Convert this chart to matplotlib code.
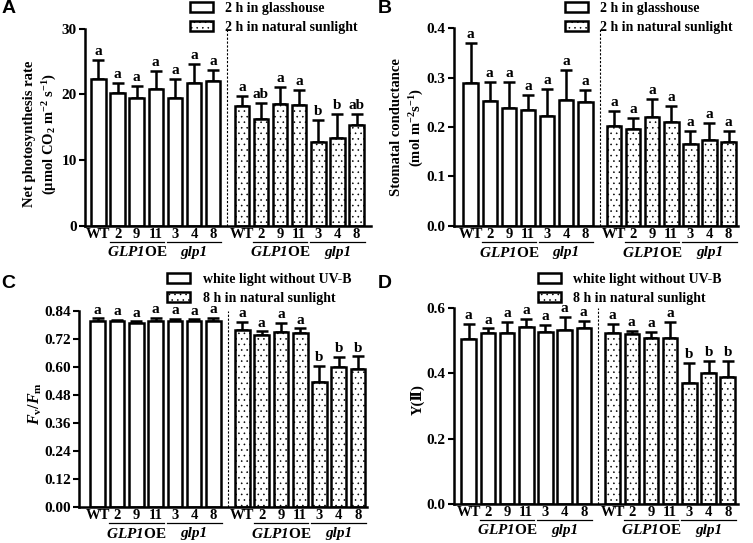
import numpy as np
import matplotlib
matplotlib.use("Agg")
import matplotlib.pyplot as plt
from matplotlib.patches import Patch

# 글꼴 설정 (Times 계열 굵은 글씨)
plt.rcParams['font.family'] = ['Liberation Serif', 'DejaVu Serif']
plt.rcParams['font.weight'] = 'bold'
plt.rcParams['font.size'] = 10
plt.rcParams['mathtext.fontset'] = 'custom'
plt.rcParams['mathtext.rm'] = 'Liberation Serif:bold'
plt.rcParams['mathtext.it'] = 'Liberation Serif:italic:bold'
plt.rcParams['mathtext.bf'] = 'Liberation Serif:bold'
# 숫자까지 이탤릭으로 쓰기 위해 sf 를 굵은 이탤릭으로 지정
plt.rcParams['mathtext.sf'] = 'Liberation Serif:italic:bold'
plt.rcParams['hatch.linewidth'] = 0.4

# x 라벨
lines = ['WT', '2', '9', '11', '3', '4', '8']
groups = ['$\\mathsf{GLP1}$OE', 'glp1']

# A. Net photosynthesis rate
a_ctrl = [22.4, 20.15, 19.4, 20.9, 19.4, 21.7, 22.0]
a_ctrl_top = [25.3, 21.7, 21.3, 23.65, 22.3, 24.6, 23.8]
a_trt = [18.2, 16.2, 18.5, 18.4, 12.8, 13.35, 15.3]
a_trt_top = [19.75, 18.7, 21.1, 20.7, 16.1, 17.05, 17.0]
a_ctrl_let = ['a'] * 7
a_trt_let = ['a', 'ab', 'a', 'a', 'b', 'b', 'ab']

# B. Stomatal conductance
b_ctrl = [0.290, 0.253, 0.238, 0.235, 0.223, 0.255, 0.250]
b_ctrl_top = [0.371, 0.291, 0.291, 0.265, 0.278, 0.316, 0.276]
b_trt = [0.203, 0.197, 0.220, 0.211, 0.166, 0.174, 0.169]
b_trt_top = [0.233, 0.218, 0.257, 0.242, 0.193, 0.209, 0.192]
b_ctrl_let = ['a'] * 7
b_trt_let = ['a'] * 7

# C. Fv/Fm
c_ctrl = [0.797, 0.796, 0.790, 0.798, 0.796, 0.797, 0.798]
c_ctrl_top = [0.810, 0.803, 0.798, 0.812, 0.807, 0.806, 0.812]
c_trt = [0.761, 0.737, 0.751, 0.747, 0.537, 0.601, 0.590]
c_trt_top = [0.794, 0.754, 0.790, 0.766, 0.606, 0.644, 0.648]
c_ctrl_let = ['a'] * 7
c_trt_let = ['a', 'a', 'a', 'a', 'b', 'b', 'b']

# D. Y(II)
d_ctrl = [0.505, 0.522, 0.522, 0.543, 0.526, 0.533, 0.538]
d_ctrl_top = [0.551, 0.537, 0.558, 0.566, 0.548, 0.573, 0.561]
d_trt = [0.523, 0.520, 0.507, 0.507, 0.369, 0.402, 0.388]
d_trt_top = [0.550, 0.530, 0.527, 0.556, 0.432, 0.438, 0.438]
d_ctrl_let = ['a'] * 7
d_trt_let = ['a', 'a', 'a', 'a', 'b', 'b', 'b']

legend_ab = ['2 h in glasshouse', '2 h in natural sunlight']
legend_cd = ['white light without UV-B', '8 h in natural sunlight']

x_ctrl = np.arange(7)
x_trt = np.arange(7) + 7.5


def draw_panel(ax, ctrl, ctrl_top, trt, trt_top, ctrl_let, trt_let,
               ylim, yticks, fmt, xlim, let_pad):
    for x, v, top, let, hatch in [(x_ctrl, ctrl, ctrl_top, ctrl_let, None),
                                  (x_trt, trt, trt_top, trt_let, '...')]:
        v = np.array(v)
        err = np.array(top) - v
        ax.errorbar(x, v, yerr=[np.zeros(7), err], fmt='none', ecolor='black',
                     elinewidth=1.8, capsize=4, capthick=1.8, zorder=1)
        ax.bar(x, v, width=0.76, color='white', edgecolor='black',
               linewidth=1.8, hatch=hatch, zorder=2)
        for xi, t, l in zip(x, top, let):
            ax.text(xi, t + let_pad, l, ha='center', va='bottom', fontsize=11)

    # 점선 구분
    ax.axvline(6.75, color='black', lw=0.8, ls=(0, (2, 1.5)), zorder=0)

    ax.set_xlim(*xlim)
    ax.set_ylim(*ylim)
    ax.set_yticks(yticks)
    ax.set_yticklabels([fmt.format(t) for t in yticks])
    ax.set_xticks(list(x_ctrl) + list(x_trt))
    ax.set_xticklabels(lines * 2)
    ax.tick_params(axis='x', length=0, pad=1.5, labelsize=10.5)
    ax.tick_params(axis='y', length=4, width=1.5, pad=2, labelsize=11)
    ax.spines['top'].set_visible(False)
    ax.spines['right'].set_visible(False)
    ax.spines['left'].set_linewidth(1.8)
    ax.spines['bottom'].set_linewidth(1.8)

    # 그룹 라벨 + 밑줄
    trans = ax.get_xaxis_transform()
    for start in [1, 4, 8.5, 11.5]:
        ax.plot([start - 0.42, start + 2.42], [-0.082, -0.082], color='black',
                lw=0.9, transform=trans, clip_on=False)
    for cx, g in zip([2, 5, 9.5, 12.5], groups * 2):
        st = 'italic' if g == 'glp1' else 'normal'
        ax.text(cx, -0.135, g, transform=trans, ha='center', va='center',
                style=st, fontsize=11)


fig = plt.figure(figsize=(7.53, 5.43), dpi=100)

axA = fig.add_axes([0.113, 0.584, 0.380, 0.363])
axB = fig.add_axes([0.603, 0.584, 0.377, 0.364])
axC = fig.add_axes([0.105, 0.066, 0.382, 0.361])
axD = fig.add_axes([0.603, 0.072, 0.377, 0.361])

draw_panel(axA, a_ctrl, a_ctrl_top, a_trt, a_trt_top, a_ctrl_let, a_trt_let,
           (0, 30), [0, 10, 20, 30], '{:.0f}', (-0.7, 14.27), 0.3)
draw_panel(axB, b_ctrl, b_ctrl_top, b_trt, b_trt_top, b_ctrl_let, b_trt_let,
           (0, 0.4), [0, 0.1, 0.2, 0.3, 0.4], '{:.1f}', (-0.87, 13.99), 0.004)
draw_panel(axC, c_ctrl, c_ctrl_top, c_trt, c_trt_top, c_ctrl_let, c_trt_let,
           (0, 0.84), [0, 0.12, 0.24, 0.36, 0.48, 0.60, 0.72, 0.84], '{:.2f}',
           (-0.97, 13.95), 0.006)
draw_panel(axD, d_ctrl, d_ctrl_top, d_trt, d_trt_top, d_ctrl_let, d_trt_let,
           (0, 0.6), [0, 0.2, 0.4, 0.6], '{:.1f}', (-0.76, 14.03), 0.006)

# y축 이름
axA.text(-0.154, 0.465, 'Net photosynthesis rate\n(μmol CO$_2$ m$^{-2}$ s$^{-1}$)',
         transform=axA.transAxes, rotation=90, ha='center', va='center',
         fontsize=10.5, linespacing=1.4)
axB.text(-0.162, 0.50, 'Stomatal conductance\n(mol m$^{-2}$s$^{-1}$)',
         transform=axB.transAxes, rotation=90, ha='center', va='center',
         fontsize=10.5, linespacing=1.4)
axC.text(-0.153, 0.53, '$F_\\mathrm{v}/F_\\mathrm{m}$',
         transform=axC.transAxes, rotation=90, ha='center', va='center',
         fontsize=11.5)
axD.text(-0.127, 0.53, 'Y(Ⅱ)', transform=axD.transAxes, rotation=90,
         ha='center', va='center', fontsize=10.5)

# 범례
def add_legend(labels, x, y):
    handles = [Patch(facecolor='white', edgecolor='black', lw=1.8),
               Patch(facecolor='white', edgecolor='black', lw=1.8, hatch='...')]
    fig.legend(handles, labels, loc='upper left', bbox_to_anchor=(x, y),
               frameon=False, borderpad=0, borderaxespad=0, handlelength=1.65,
               handleheight=0.75, handletextpad=0.9, labelspacing=0.4,
               prop={'weight': 'bold', 'size': 10})

add_legend(legend_ab, 0.252, 0.996)
add_legend(legend_ab, 0.750, 0.996)
add_legend(legend_cd, 0.222, 0.497)
add_legend(legend_cd, 0.714, 0.497)

# 패널 문자
for lab, x, y in [('A', 0.002, 0.985), ('B', 0.502, 0.985),
                  ('C', 0.002, 0.478), ('D', 0.502, 0.478)]:
    fig.text(x, y, lab, family='Liberation Sans', weight='bold', fontsize=14,
             ha='left', va='center')

fig.savefig('out.png', dpi=100)
